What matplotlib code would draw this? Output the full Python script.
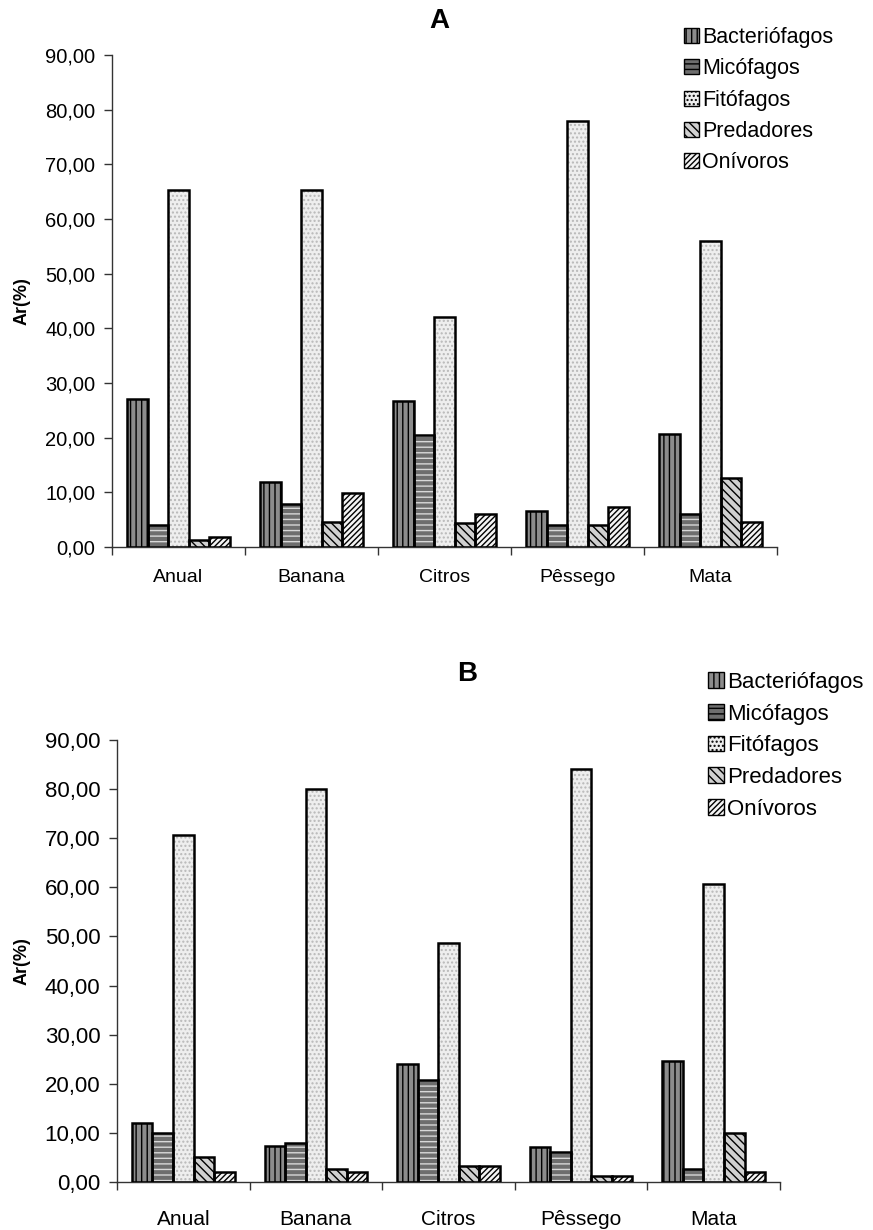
import numpy as np
import matplotlib
matplotlib.use("Agg")
import matplotlib.pyplot as plt
from matplotlib.patches import Patch
from matplotlib.ticker import FuncFormatter

plt.rcParams['font.family'] = ['Liberation Sans', 'DejaVu Sans']
plt.rcParams['hatch.linewidth'] = 1.0

categorias = ['Anual', 'Banana', 'Citros', 'Pêssego', 'Mata']
grupos = ['Bacteriófagos', 'Micófagos', 'Fitófagos', 'Predadores', 'Onívoros']

# painel A
bact_a = [27.1, 11.9, 26.7, 6.6, 20.6]
mico_a = [4.0, 7.9, 20.5, 4.0, 6.0]
fito_a = [65.3, 65.3, 42.0, 78.0, 56.0]
pred_a = [1.3, 4.6, 4.4, 4.0, 12.6]
oni_a = [1.8, 9.9, 6.0, 7.3, 4.6]

# painel B
bact_b = [12.0, 7.3, 24.1, 7.2, 24.7]
mico_b = [10.0, 8.0, 20.7, 6.2, 2.7]
fito_b = [70.6, 80.0, 48.7, 84.0, 60.7]
pred_b = [5.0, 2.7, 3.3, 1.3, 10.0]
oni_b = [2.0, 2.0, 3.3, 1.3, 2.0]

# face, hatch, cor da hachura
estilos = [
    ('#8c8c8c', '|||', 'black'),
    ('#6e6e6e', '---', '#d8d8d8'),
    ('#eeeeee', '....', '#b8b8b8'),
    ('#d0d0d0', '\\\\\\\\', 'black'),
    ('#f4f4f4', '//////', 'black'),
]

fig = plt.figure(figsize=(8.73, 12.3), dpi=100)
W, H = 873, 1230


def painel(rect, series, titulo, tpos, lpos, fs_y, fs_x, fs_leg, xpad, ylab_x):
    l, t, r, b = rect
    ax = fig.add_axes([l / W, 1 - b / H, (r - l) / W, (b - t) / H])
    x = np.arange(len(categorias))
    w = 0.155
    for i, vals in enumerate(series):
        fc, hatch, hc = estilos[i]
        pos = x - 2 * w + i * w
        ax.bar(pos, vals, w, color=fc, hatch=hatch, edgecolor=hc, linewidth=0, zorder=2)
        ax.bar(pos, vals, w, fill=False, edgecolor='black', linewidth=1.8, zorder=3)
    ax.set_xlim(-0.5, len(categorias) - 0.5)
    ax.set_ylim(0, 90)
    ax.set_yticks(np.arange(0, 91, 10))
    ax.yaxis.set_major_formatter(FuncFormatter(lambda v, p: f'{v:.2f}'.replace('.', ',')))
    ax.set_xticks(np.arange(-0.5, len(categorias), 1.0))
    ax.set_xticklabels([])
    ax.set_xticks(x, minor=True)
    ax.set_xticklabels(categorias, minor=True)
    ax.tick_params(axis='x', which='minor', length=0, pad=xpad, labelsize=fs_x)
    ax.tick_params(axis='x', which='major', length=6, width=1, color='#333333')
    ax.tick_params(axis='y', length=6, width=1, color='#333333', labelsize=fs_y, pad=6)
    for s in ['top', 'right']:
        ax.spines[s].set_visible(False)
    for s in ['left', 'bottom']:
        ax.spines[s].set_color('#333333')
        ax.spines[s].set_linewidth(1)
    ax.set_ylabel('Ar(%)', fontweight='bold', fontsize=13)
    ax.yaxis.set_label_coords(ylab_x, 0.5)
    fig.text(tpos[0] / W, 1 - tpos[1] / H, titulo, fontsize=20, fontweight='bold',
             ha='center', va='center')
    handles = [Patch(facecolor=estilos[i][0], hatch=estilos[i][1], edgecolor='black',
                     linewidth=1.0) for i in range(len(grupos))]
    fig.legend(handles, grupos, loc='upper left',
               bbox_to_anchor=(lpos[0] / W, 1 - lpos[1] / H), frameon=False,
               fontsize=fs_leg, handlelength=0.7, handleheight=0.7, handletextpad=0.15,
               labelspacing=0.48, borderaxespad=0, borderpad=0)
    return ax


painel((112, 55, 777, 547), [bact_a, mico_a, fito_a, pred_a, oni_a], 'A', (439, 21),
       (684, 27), 14.5, 14, 15.5, 16, -0.122)
painel((117, 740, 780, 1182), [bact_b, mico_b, fito_b, pred_b, oni_b], 'B', (467, 674),
       (708, 672), 16, 15, 16, 20, -0.130)

plt.savefig('out.png', dpi=100)
